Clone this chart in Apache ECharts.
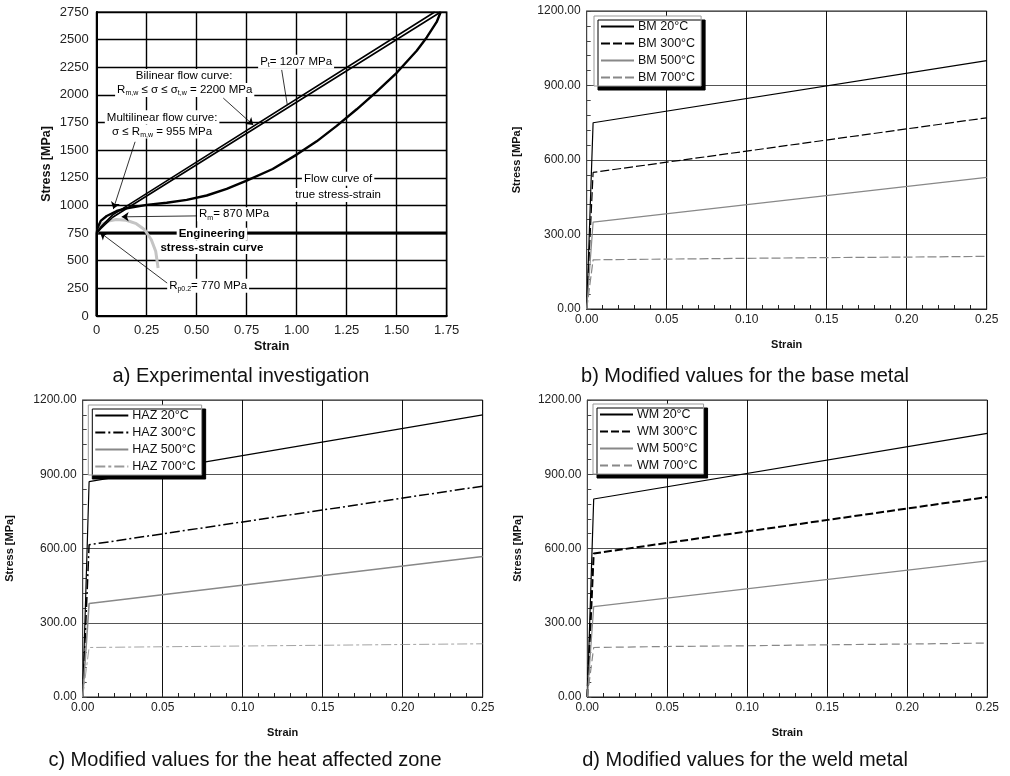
<!DOCTYPE html>
<html><head><meta charset="utf-8">
<script src="https://cdn.jsdelivr.net/npm/echarts@6/dist/echarts.min.js"></script>
<style>html,body{margin:0;padding:0;background:#fff}#c{width:1010px;height:776px}</style>
</head><body><div id="c"></div>
<script>
// ---------- Panel a: experimental investigation ----------
const flowStrain = [0, 0, 0.005, 0.02, 0.05, 0.1, 0.15, 0.25, 0.35, 0.45, 0.55, 0.65, 0.75, 0.88, 1.0, 1.1, 1.2, 1.3, 1.4, 1.5, 1.6, 1.65, 1.7, 1.72];
const flowStress = [0, 750, 800, 860, 905, 950, 975, 1005, 1025, 1050, 1090, 1150, 1225, 1330, 1460, 1580, 1720, 1870, 2030, 2200, 2400, 2520, 2660, 2750];
const biStrain = [0, 0.02, 0.08, 1.69];
const biStress = [750, 805, 915, 2750];
const multiStrain = [0, 0.02, 0.08, 1.72];
const multiStress = [750, 790, 893, 2750];
const engStrain = [0, 0.007, 0.032, 0.065, 0.098, 0.148, 0.198, 0.24, 0.273, 0.295, 0.307];
const engStress = [750, 782, 835, 862, 872, 866, 835, 780, 690, 585, 435];
const plateauStrain = [0, 1.75];
const plateauStress = [750, 750];

// ---------- Panels b-d: modified values ----------
const modStrain = [0, 0.004, 0.25];
const hotStrain = [0, 0.004, 0.05, 0.1, 0.15, 0.2, 0.25];
const bmNames = ['BM 20°C', 'BM 300°C', 'BM 500°C', 'BM 700°C'];
const bm20 = [0, 750, 1000];
const bm300 = [0, 550, 770];
const bm500 = [0, 350, 530];
const bm700 = [0, 198, 201, 204, 207, 209, 212];
const hazNames = ['HAZ 20°C', 'HAZ 300°C', 'HAZ 500°C', 'HAZ 700°C'];
const haz20 = [0, 870, 1140];
const haz300 = [0, 615, 852];
const haz500 = [0, 378, 568];
const haz700 = [0, 200, 203, 206, 209, 212, 215];
const wmNames = ['WM 20°C', 'WM 300°C', 'WM 500°C', 'WM 700°C'];
const wm20 = [0, 800, 1065];
const wm300 = [0, 580, 808];
const wm500 = [0, 365, 550];
const wm700 = [0, 200, 204, 207, 211, 214, 218];

const FONT = 'Liberation Sans, Arial, sans-serif';
const pair = (xs, ys) => xs.map((x, i) => [x, ys[i]]);

const chart = echarts.init(document.getElementById('c'), null, {renderer: 'canvas'});

const grids = [
  {left: 96.7, top: 12, width: 350, height: 304},
  {left: 586.7, top: 11, width: 400, height: 298},
  {left: 82.7, top: 400, width: 400, height: 297},
  {left: 587.3, top: 400, width: 400, height: 297}
];

function modX(i, gap) {
  return {
    type: 'value', gridIndex: i, min: 0, max: 0.25, interval: 0.05,
    name: 'Strain', nameLocation: 'middle', nameGap: gap,
    nameTextStyle: {fontFamily: FONT, fontWeight: 'bold', fontSize: 11, color: '#111'},
    axisLine: {lineStyle: {color: '#222', width: 1}},
    axisTick: {show: true, inside: true, length: 4, lineStyle: {color: '#222'}},
    minorTick: {show: true, splitNumber: 5, length: 4, lineStyle: {color: '#222'}},
    axisLabel: {fontFamily: FONT, fontSize: 12, color: '#222', margin: 5, formatter: v => v.toFixed(2)},
    splitLine: {show: true, lineStyle: {color: '#111', width: 1}}
  };
}
function modY(i, gap) {
  return {
    type: 'value', gridIndex: i, min: 0, max: 1200, interval: 300,
    name: 'Stress [MPa]', nameLocation: 'middle', nameGap: gap,
    nameTextStyle: {fontFamily: FONT, fontWeight: 'bold', fontSize: 11, color: '#111'},
    axisLine: {lineStyle: {color: '#444', width: 1}},
    axisTick: {show: true, inside: true, length: 4, lineStyle: {color: '#444'}},
    minorTick: {show: true, splitNumber: 5, length: 4, lineStyle: {color: '#444'}},
    axisLabel: {fontFamily: FONT, fontSize: 12, color: '#222', margin: 6, formatter: v => v.toFixed(2)},
    splitLine: {show: true, lineStyle: {color: '#555', width: 1}}
  };
}

function line(name, xi, data, color, width, type) {
  return {
    name: name, type: 'line', xAxisIndex: xi, yAxisIndex: xi, data: data,
    symbol: 'none', showSymbol: false, animation: false, silent: true,
    lineStyle: {color: color, width: width, type: type},
    itemStyle: {color: color}
  };
}

function legendFor(names, left, top) {
  return {
    data: names, orient: 'vertical', left: left, top: top,
    itemWidth: 33, itemHeight: 14, itemGap: 4,
    padding: [4, 6, 2, 6],
    backgroundColor: '#fff', borderColor: '#999', borderWidth: 1,
    shadowColor: '#000', shadowBlur: 0, shadowOffsetX: 4, shadowOffsetY: 4,
    itemStyle: {opacity: 0},
    textStyle: {fontFamily: FONT, fontSize: 12.5, color: '#111', padding: [0, 0, 0, -1]},
    selectedMode: false
  };
}

const arrows = [
  [[0.925, 2226], [0.953, 1910], 'none'],
  [[0.633, 1971], [0.783, 1727], 'arrow'],
  [[0.192, 1576], [0.083, 967], 'arrow'],
  [[0.517, 906], [0.125, 897], 'arrow'],
  [[0.375, 267], [0.017, 755], 'arrow']
];

const option = {
  backgroundColor: '#fff',
  animation: false,
  grid: grids.map((g, i) => Object.assign({show: true, borderColor: i === 0 ? '#333' : '#222', borderWidth: i === 0 ? 1.5 : 1, backgroundColor: 'transparent'}, g)),
  xAxis: [
    {
      type: 'value', gridIndex: 0, min: 0, max: 1.75, interval: 0.25,
      name: 'Strain', nameLocation: 'middle', nameGap: 24,
      nameTextStyle: {fontFamily: FONT, fontWeight: 'bold', fontSize: 12.5, color: '#111'},
      axisLine: {lineStyle: {color: '#000', width: 2}},
      axisTick: {show: false},
      axisLabel: {fontFamily: FONT, fontSize: 13, color: '#222', margin: 8, formatter: v => v === 0 ? '0' : v.toFixed(2)},
      splitLine: {show: true, lineStyle: {color: '#000', width: 1.4}}
    },
    modX(1, 30), modX(2, 30), modX(3, 30)
  ],
  yAxis: [
    {
      type: 'value', gridIndex: 0, min: 0, max: 2750, interval: 250,
      name: 'Stress [MPa]', nameLocation: 'middle', nameGap: 44,
      nameTextStyle: {fontFamily: FONT, fontWeight: 'bold', fontSize: 12.5, color: '#111'},
      axisLine: {lineStyle: {color: '#000', width: 2}},
      axisTick: {show: false},
      axisLabel: {fontFamily: FONT, fontSize: 13, color: '#222', margin: 8, formatter: v => String(v)},
      splitLine: {show: true, lineStyle: {color: '#000', width: 1.4}}
    },
    modY(1, 64), modY(2, 67), modY(3, 64)
  ],
  legend: [
    legendFor(bmNames, 594, 16),
    legendFor(hazNames, 88.3, 405),
    legendFor(wmNames, 593, 404)
  ],
  series: [
    Object.assign(line('plateau', 0, pair(plateauStrain, plateauStress), '#000', 3, 'solid'), {
      markLine: {
        silent: true, animation: false, symbolSize: 7,
        label: {show: false},
        lineStyle: {color: '#000', width: 0.8, type: 'solid'},
        data: arrows.map(a => [{coord: a[0], symbol: 'none'}, {coord: a[1], symbol: a[2]}])
      }
    }),
    line('Engineering stress-strain curve', 0, pair(engStrain, engStress), '#c4c4c4', 3, 'solid'),
    line('Flow curve of true stress-strain', 0, pair(flowStrain, flowStress), '#000', 2.4, 'solid'),
    line('Bilinear flow curve', 0, pair(biStrain, biStress), '#000', 1.6, 'solid'),
    line('Multilinear flow curve', 0, pair(multiStrain, multiStress), '#000', 1.6, 'solid'),

    line(bmNames[0], 1, pair(modStrain, bm20), '#000', 1.2, 'solid'),
    line(bmNames[1], 1, pair(modStrain, bm300), '#000', 1.2, [9, 3]),
    line(bmNames[2], 1, pair(modStrain, bm500), '#888', 1.2, 'solid'),
    line(bmNames[3], 1, pair(hotStrain, bm700), '#888', 1.2, [9, 3]),

    line(hazNames[0], 2, pair(modStrain, haz20), '#000', 1.2, 'solid'),
    line(hazNames[1], 2, pair(modStrain, haz300), '#000', 1.5, [10, 3, 2, 3]),
    line(hazNames[2], 2, pair(modStrain, haz500), '#888', 1.6, 'solid'),
    line(hazNames[3], 2, pair(hotStrain, haz700), '#999', 0.9, [10, 3, 3, 3]),

    line(wmNames[0], 3, pair(modStrain, wm20), '#000', 1.2, 'solid'),
    line(wmNames[1], 3, pair(modStrain, wm300), '#000', 2, [8, 3]),
    line(wmNames[2], 3, pair(modStrain, wm500), '#888', 1.2, 'solid'),
    line(wmNames[3], 3, pair(hotStrain, wm700), '#888', 1.2, [8, 4])
  ]
};

chart.setOption(option);

// ---------- annotations of panel a (anchored in data coordinates) ----------
const sub = {fontSize: 7, lineHeight: 9, verticalAlign: 'bottom', fontFamily: FONT, color: '#111'};
const nrm = {fontSize: 11.5, lineHeight: 14, fontFamily: FONT, color: '#111'};
const notes = [
  {at: [0.437, 2172], text: '{n|Bilinear flow curve:}'},
  {at: [0.44, 2044], text: '{n|R}{s|m,w}{n| ≤ σ ≤ σ}{s|t,w}{n| = 2200 MPa}'},
  {at: [0.327, 1797], text: '{n|Multilinear flow curve:}'},
  {at: [0.327, 1670], text: '{n|σ ≤ R}{s|m,w}{n| = 955 MPa}'},
  {at: [0.997, 2299], text: '{n|P}{s|t}{n|= 1207 MPa}'},
  {at: [1.207, 1241], text: '{n|Flow curve of}'},
  {at: [1.207, 1095], text: '{n|true stress-strain}'},
  {at: [0.687, 921], text: '{n|R}{s|m}{n|= 870 MPa}'},
  {at: [0.576, 739], text: '{g|Engineering}'},
  {at: [0.576, 620], text: '{g|stress-strain curve}'},
  {at: [0.557, 274], text: '{n|R}{s|p0.2}{n|= 770 MPa}'}
];
const captions = [
  {x: 241, y: 376, text: 'a) Experimental investigation'},
  {x: 745, y: 376, text: 'b) Modified values for the base metal'},
  {x: 245, y: 760, text: 'c) Modified values for the heat affected zone'},
  {x: 745, y: 760, text: 'd) Modified values for the weld metal'}
];
const graphics = [];
notes.forEach(n => {
  const p = chart.convertToPixel({gridIndex: 0}, n.at);
  graphics.push({
    type: 'text', x: p[0], y: p[1], z: 100, silent: true,
    style: {
      text: n.text, align: 'center', verticalAlign: 'middle',
      backgroundColor: '#fff', padding: [0, 2, 0, 2],
      rich: {n: nrm, s: sub, g: {fontSize: 11.5, lineHeight: 13, fontWeight: 'bold', fontFamily: FONT, color: '#b4b4b4'}}
    }
  });
});
captions.forEach(c => {
  graphics.push({
    type: 'text', x: c.x, y: c.y, z: 100, silent: true,
    style: {text: c.text, align: 'center', verticalAlign: 'middle', font: '20px ' + FONT, fill: '#111'}
  });
});
chart.setOption({graphic: graphics});
</script>
</body></html>
